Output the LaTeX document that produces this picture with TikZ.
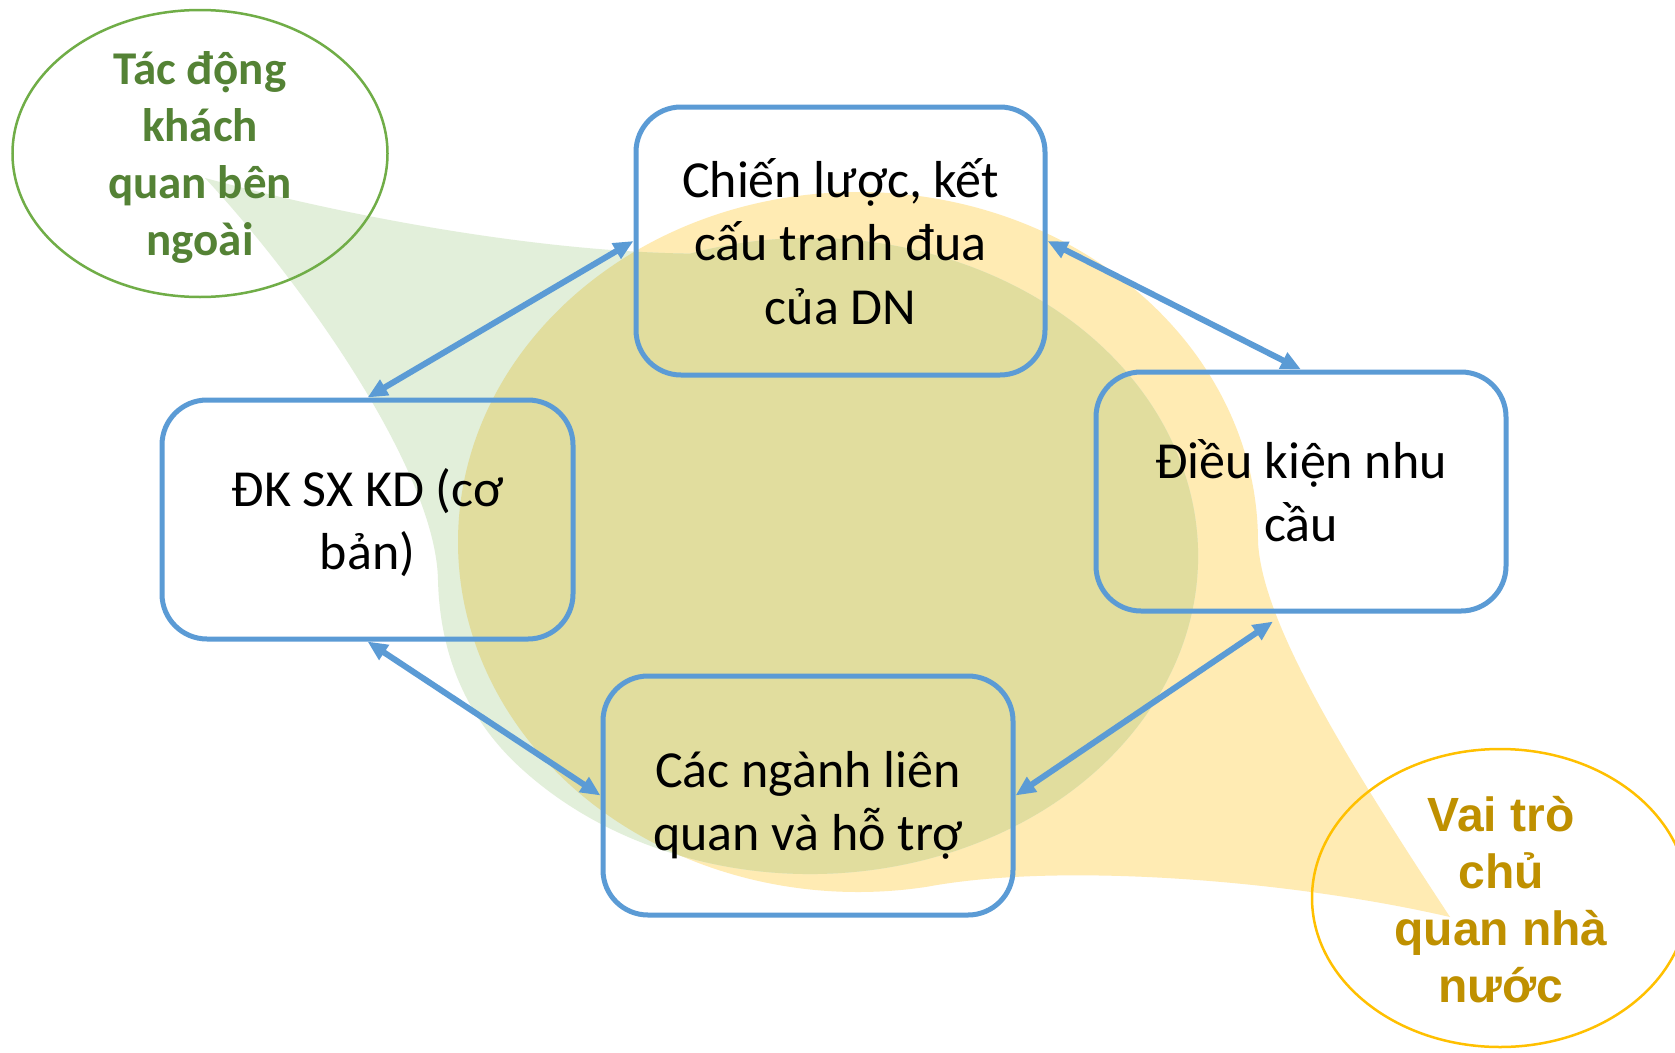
\documentclass[tikz,border=0pt]{standalone}
\usepackage{fontspec}
\setmainfont{Carlito}
\newfontfamily\arialfont{Liberation Sans}
\usetikzlibrary{arrows.meta,shapes.geometric}
\definecolor{boxblue}{HTML}{5B9BD5}
\definecolor{lgreen}{HTML}{E2EFDA}
\definecolor{lyellow}{HTML}{FFEBB3}
\definecolor{olivemix}{HTML}{E1DD9E}
\definecolor{ringgreen}{HTML}{70AD47}
\definecolor{ringgold}{HTML}{FFC000}
\definecolor{txtgreen}{HTML}{548235}
\definecolor{txtgold}{HTML}{BF9000}
\newcommand\stackc[1]{\vtop{\halign{\hfil##\hfil\cr#1\crcr}}}
\def\yellowpath{(1450,917) .. controls (1340,750) and (1262,620) .. (1258,542)
  arc[start angle=0, end angle=-280, x radius=400, y radius=350]
  .. controls (1060,862) and (1290,880) .. (1450,917) -- cycle}
\def\greenpath{(205,178) .. controls (380,225) and (560,252) .. (690.1,253.6)
  arc[start angle=-108, end angle=140, x radius=388, y radius=318]
  .. controls (470,718) and (440,660) .. (438,580)
  .. controls (436,470) and (300,280) .. (205,178) -- cycle}
\begin{document}
\begin{tikzpicture}[x=1pt,y=-1pt,
  factor/.style={draw=boxblue, line width=5pt, rounded corners=45pt, inner sep=0pt,
    minimum width=410pt, minimum height=239pt},
  boxtext/.style={anchor=base, inner sep=0pt, font=\fontsize{52}{63.5}\selectfont},
  ring/.style={ellipse, line width=2.5pt, inner sep=0pt},
  link/.style={draw=boxblue, line width=6pt,
    {Triangle[length=20pt,width=17pt]}-{Triangle[length=20pt,width=17pt]}}
]
\useasboundingbox (0,0) rectangle (1675,1052);
\fill[white] (0,0) rectangle (1675,1052);
% callout shapes
\fill[lyellow] \yellowpath;
\fill[lgreen] \greenpath;
\begin{scope}
  \clip \yellowpath;
  \fill[olivemix] \greenpath;
\end{scope}
% outlined ellipses
\node[ring, draw=ringgreen, minimum width=375pt, minimum height=287pt] (ge) at (200,153.5) {};
\node[ring, draw=ringgold, minimum width=376pt, minimum height=298pt] (ye) at (1500,898) {};
% boxes
\node[factor, minimum width=409pt, minimum height=268pt] (tb) at (840.5,241) {};
\node[factor, minimum width=411pt] (lb) at (367.5,519.5) {};
\node[factor] (rb) at (1301,491.5) {};
\node[factor] (bb) at (808,795.5) {};
% box texts
\node[boxtext] (tbt) at (840.5,197) {\stackc{Chiến lược, kết\cr cấu tranh đua\cr của DN}};
\node[boxtext] (lbt) at (367.5,506) {\stackc{ĐK SX KD (cơ\cr bản)}};
\node[boxtext] (rbt) at (1301,478) {\stackc{Điều kiện nhu\cr cầu}};
\node[boxtext] (bbt) at (808,787) {\stackc{Các ngành liên\cr quan và hỗ trợ}};
% arrows
\draw[link] (lb.north) -- (tb.west);
\draw[link] (tb.east) -- (rb.north);
\draw[link] ([xshift=-28pt,yshift=-8pt]rb.south) -- (bb.east);
\draw[link] (lb.south) -- (bb.west);
% ellipse texts
\node[anchor=base, inner sep=0pt, text=txtgreen,
  font=\bfseries\fontsize{47}{57.3}\selectfont] (get) at (200,84)
  {\stackc{Tác động\cr khách\cr quan bên\cr ngoài}};
\node[anchor=base, inner sep=0pt, text=txtgold,
  font=\arialfont\bfseries\fontsize{48}{57.3}\selectfont] (yet) at (1501,831)
  {\stackc{Vai trò\cr chủ\cr quan nhà\cr nước}};
\end{tikzpicture}
\end{document}
